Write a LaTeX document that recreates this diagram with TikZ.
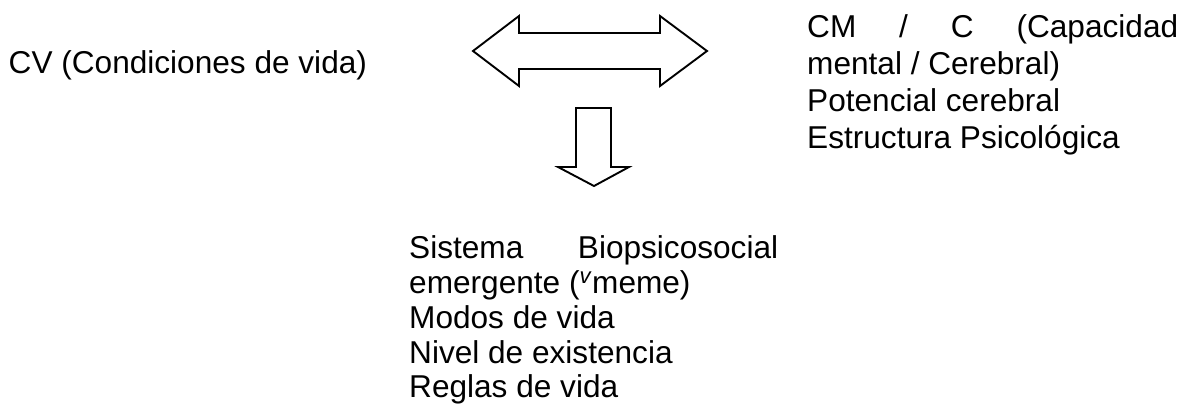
\documentclass[tikz,border=0pt]{standalone}
\usepackage{fontspec}
\setmainfont{Liberation Sans}
\tikzset{
  txt/.style={inner sep=0pt, anchor=base west, font=\fontsize{31.6}{36}\selectfont},
  blockarrow/.style={draw=black, line width=1.9pt, line join=miter, fill=white}
}
\begin{document}
\begin{tikzpicture}[x=1pt,y=-1pt]
\useasboundingbox (0,0) rectangle (1181,415);
% left text
\node[txt] (cv) at (8.5,73) {CV (Condiciones de vida)};
% right block
\node[txt] (r1) at (807,37) {\makebox[371pt][s]{CM / C (Capacidad}};
\node[txt] (r2) at (807,74) {mental / Cerebral)};
\node[txt] (r3) at (807,111) {Potencial cerebral};
\node[txt] (r4) at (807,148) {Estructura Psicológica};
% bottom block
\node[txt] (b1) at (409,258) {\makebox[369pt][s]{Sistema Biopsicosocial}};
\node[txt] (b2) at (409,293) {emergente (\textsuperscript{\textit{v}}meme)};
\node[txt] (b3) at (409,328) {Modos de vida};
\node[txt] (b4) at (409,363) {Nivel de existencia};
\node[txt] (b5) at (409,397) {Reglas de vida};
% double arrow
\draw[blockarrow] (473,51) -- (519,16) -- (519,33) -- (660,33) -- (660,16) -- (707,51)
  -- (660,86) -- (660,69) -- (519,69) -- (519,86) -- cycle;
% down arrow
\draw[blockarrow] (576,108) -- (611,108) -- (611,167) -- (629,167) -- (594,186)
  -- (558,167) -- (576,167) -- cycle;
\end{tikzpicture}
\end{document}
